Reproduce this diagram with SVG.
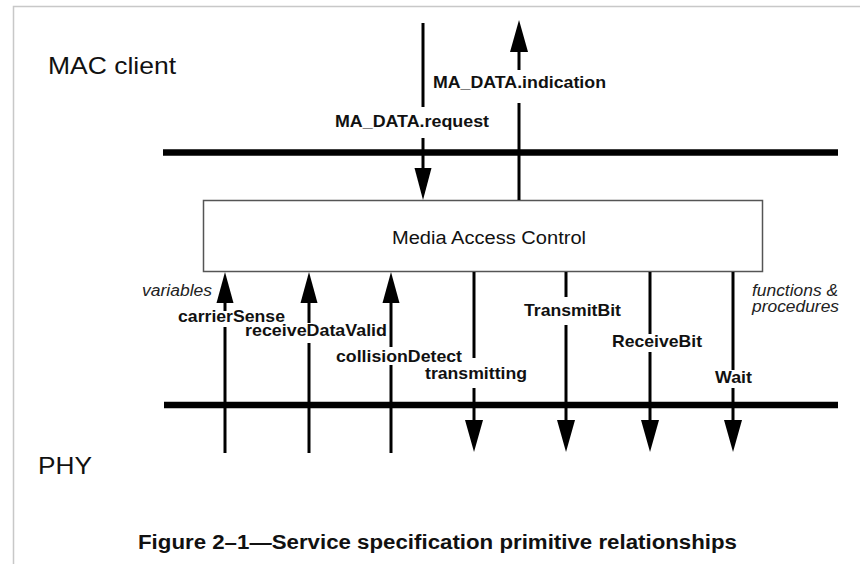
<svg xmlns="http://www.w3.org/2000/svg" width="860" height="564" viewBox="0 0 860 564">
<style>
.t{font-family:"Liberation Sans",Arial,sans-serif;fill:#111}
.b{font-weight:bold;font-size:17px}
.i{font-style:italic;font-size:16px;fill:#222}
.big{font-size:24px}
.ln{stroke:#000;stroke-width:3;fill:none}
.bar{stroke:#000;stroke-width:6.5}
.ah{fill:#000}
.gap{fill:#fff}
</style>
<rect width="860" height="564" fill="#fff"/>
<path d="M13.5 564 V6.5 H860" fill="none" stroke="#c8c8c8" stroke-width="1.5"/>
<g id="mac-client"><text class="t big" x="48" y="74" textLength="128" lengthAdjust="spacingAndGlyphs">MAC client</text></g>
<g id="phy"><text class="t big" x="38" y="474" textLength="54" lengthAdjust="spacingAndGlyphs">PHY</text></g>
<g id="bars">
<line class="bar" x1="163" y1="152.5" x2="838" y2="152.5"/>
<line class="bar" x1="164" y1="405" x2="838" y2="405"/>
</g>
<g id="mac">
<rect x="203.5" y="200.5" width="559" height="71" fill="#fff" stroke="#555" stroke-width="1.5"/>
<text class="t" x="392" y="244" font-size="18" textLength="194" lengthAdjust="spacingAndGlyphs">Media Access Control</text>
</g>
<g id="connectors">
<line class="ln" x1="423" y1="23" x2="423" y2="170"/>
<polygon class="ah" points="414.5,168 431.5,168 423,200"/>
<line class="ln" x1="519" y1="50" x2="519" y2="200"/>
<polygon class="ah" points="510,52 528,52 519,20"/>
<line class="ln" x1="225" y1="300" x2="225" y2="453"/>
<polygon class="ah" points="216.5,303 233.5,303 225,272"/>
<line class="ln" x1="309" y1="300" x2="309" y2="453"/>
<polygon class="ah" points="300.5,303 317.5,303 309,272"/>
<line class="ln" x1="391" y1="300" x2="391" y2="453"/>
<polygon class="ah" points="382.5,303 399.5,303 391,272"/>
<line class="ln" x1="474" y1="272" x2="474" y2="422"/>
<polygon class="ah" points="465,420 483,420 474,452"/>
<line class="ln" x1="566" y1="272" x2="566" y2="422"/>
<polygon class="ah" points="557,420 575,420 566,452"/>
<line class="ln" x1="650" y1="272" x2="650" y2="422"/>
<polygon class="ah" points="641,420 659,420 650,452"/>
<line class="ln" x1="733" y1="272" x2="733" y2="422"/>
<polygon class="ah" points="724,420 742,420 733,452"/>
</g>
<g id="label-gaps">
<rect class="gap" x="430" y="70" width="179" height="33"/>
<rect class="gap" x="332" y="107" width="160" height="31"/>
<rect class="gap" x="176" y="311" width="111" height="16"/>
<rect class="gap" x="243" y="323" width="146" height="20"/>
<rect class="gap" x="334" y="347" width="130" height="18"/>
<rect class="gap" x="423" y="358" width="106" height="30"/>
<rect class="gap" x="522" y="297" width="101" height="28"/>
<rect class="gap" x="610" y="334" width="94" height="18"/>
<rect class="gap" x="713" y="370" width="41" height="18"/>
</g>
<g id="labels">
<text class="t b" x="433" y="88" textLength="173" lengthAdjust="spacingAndGlyphs">MA_DATA.indication</text>
<text class="t b" x="335" y="127" textLength="154" lengthAdjust="spacingAndGlyphs">MA_DATA.request</text>
<text class="t b" x="178" y="322" textLength="107" lengthAdjust="spacingAndGlyphs">carrierSense</text>
<text class="t b" x="245" y="336" textLength="142" lengthAdjust="spacingAndGlyphs">receiveDataValid</text>
<text class="t b" x="336" y="362" textLength="126" lengthAdjust="spacingAndGlyphs">collisionDetect</text>
<text class="t b" x="425" y="379" textLength="102" lengthAdjust="spacingAndGlyphs">transmitting</text>
<text class="t b" x="524" y="316" textLength="97" lengthAdjust="spacingAndGlyphs">TransmitBit</text>
<text class="t b" x="612" y="347" textLength="90" lengthAdjust="spacingAndGlyphs">ReceiveBit</text>
<text class="t b" x="715" y="383" textLength="37" lengthAdjust="spacingAndGlyphs">Wait</text>
<text class="t i" x="142" y="296" textLength="70" lengthAdjust="spacingAndGlyphs">variables</text>
<text class="t i" x="752" y="296" textLength="86" lengthAdjust="spacingAndGlyphs">functions &amp;</text>
<text class="t i" x="752" y="312" textLength="87" lengthAdjust="spacingAndGlyphs">procedures</text>
</g>
<g id="caption"><text class="t" x="138" y="549" font-size="20" font-weight="bold" textLength="599" lengthAdjust="spacingAndGlyphs">Figure 2–1—Service specification primitive relationships</text></g>
</svg>
